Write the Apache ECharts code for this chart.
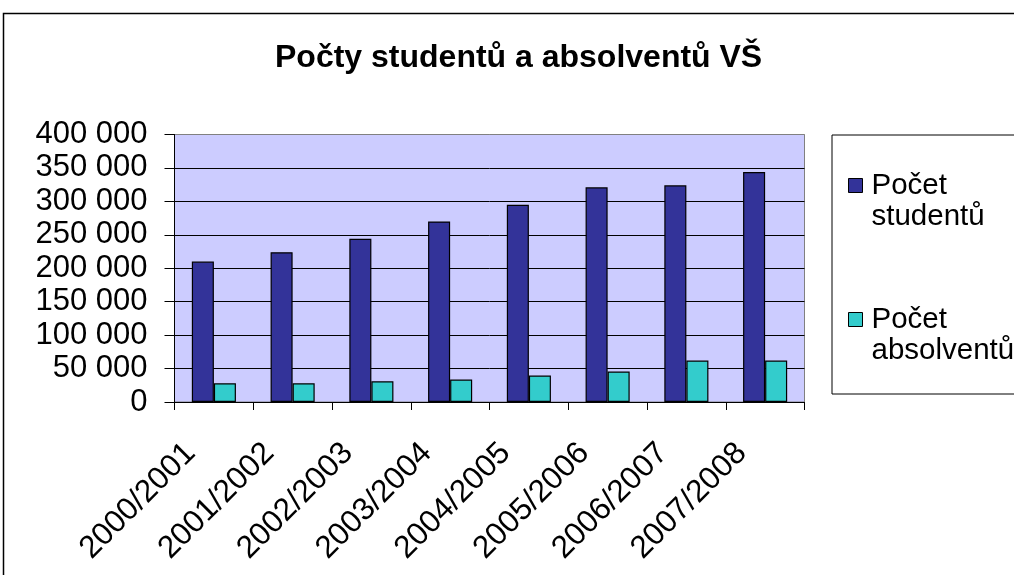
<!DOCTYPE html>
<html>
<head>
<meta charset="utf-8">
<script src="https://cdn.jsdelivr.net/npm/echarts@6/dist/echarts.min.js"></script>
<style>
html,body{margin:0;padding:0;background:#fff;}
#chart{width:1014px;height:575px;}
</style>
</head>
<body>
<div id="chart"></div>
<script>
const titleText = 'Počty studentů a absolventů VŠ';
const categories = ['2000/2001','2001/2002','2002/2003','2003/2004','2004/2005','2005/2006','2006/2007','2007/2008'];
const seriesNames = ['Počet studentů', 'Počet absolventů'];
const students = [210000, 224000, 244000, 270000, 295000, 321000, 324000, 344000];
const graduates = [28000, 28000, 31000, 33500, 39500, 45500, 62000, 62000];
const yMin = 0, yMax = 400000, yStep = 50000;

const FONT = '"Liberation Sans", Arial, sans-serif';
const chart = echarts.init(document.getElementById('chart'), null, {renderer: 'canvas'});

function fmt(v) {
  return String(v).replace(/\B(?=(\d{3})+(?!\d))/g, ' ');
}

chart.setOption({
  animation: false,
  backgroundColor: '#ffffff',
  title: {
    text: titleText,
    left: 270,
    top: 37,
    textStyle: {fontFamily: FONT, fontSize: 32, fontWeight: 'bold', color: '#000'}
  },
  graphic: [{
    type: 'rect',
    shape: {x: 3.5, y: 13.5, width: 1030, height: 600},
    style: {fill: 'none', stroke: '#000', lineWidth: 1.5},
    silent: true
  }],
  legend: {
    orient: 'vertical',
    left: 832,
    top: 135,
    padding: [4, 12, 28, 16],
    itemGap: 41,
    itemWidth: 14,
    itemHeight: 14,
    itemStyle: {borderColor: '#000', borderWidth: 1},
    borderColor: '#000',
    borderWidth: 1,
    backgroundColor: '#fff',
    icon: 'rect',
    formatter: function (name) { return '\n' + name.replace(' ', '\n'); },
    textStyle: {fontFamily: FONT, fontSize: 29.5, lineHeight: 31, color: '#000', padding: [0, 0, 0, 4]},
    data: seriesNames
  },
  grid: {
    left: 174.5, right: 209.5, top: 134.5, bottom: 173,
    show: true,
    backgroundColor: '#CCCCFF',
    borderColor: '#808080',
    borderWidth: 1
  },
  xAxis: {
    type: 'category',
    data: categories,
    axisLine: {lineStyle: {color: '#000', width: 1}},
    axisTick: {show: true, length: 8, lineStyle: {color: '#000'}},
    axisLabel: {
      rotate: 45,
      interval: 0,
      margin: 23,
      padding: [0, 33, 0, 0],
      fontFamily: FONT,
      fontSize: 31.5,
      color: '#000'
    }
  },
  yAxis: {
    type: 'value',
    min: yMin,
    max: yMax,
    interval: yStep,
    axisLine: {show: true, lineStyle: {color: '#000', width: 1}},
    axisTick: {show: true, length: 10, lineStyle: {color: '#000'}},
    splitLine: {show: true, lineStyle: {color: ['#000','#000','#000','#000','#000','#000','#000','#000','#808080'], width: 1}},
    axisLabel: {
      formatter: fmt,
      margin: 27,
      fontFamily: FONT,
      fontSize: 31,
      color: '#000'
    }
  },
  series: [
    {
      name: seriesNames[0],
      type: 'bar',
      data: students,
      barGap: '0%',
      barCategoryGap: '44%',
      itemStyle: {color: '#333399', borderColor: '#000', borderWidth: 1.2}
    },
    {
      name: seriesNames[1],
      type: 'bar',
      data: graduates,
      barGap: '0%',
      barCategoryGap: '44%',
      itemStyle: {color: '#33CCCC', borderColor: '#000', borderWidth: 1.2}
    }
  ]
});
</script>
</body>
</html>
